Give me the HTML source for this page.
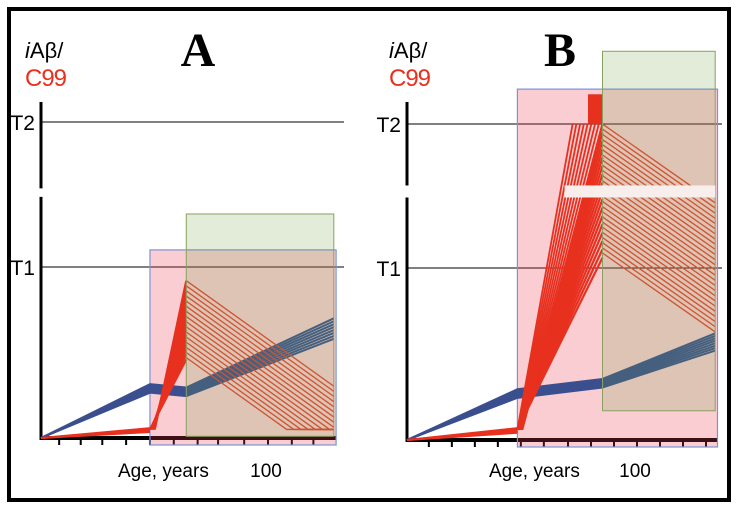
<!DOCTYPE html>
<html><head><meta charset="utf-8"><style>
html,body{margin:0;padding:0;background:#fff}
svg{display:block}
</style></head><body>
<svg id="chart" width="736" height="510" viewBox="0 0 736 510" xmlns="http://www.w3.org/2000/svg" font-family="Liberation Sans, sans-serif">
<rect x="9" y="9" width="720" height="491" fill="#fff" stroke="#000" stroke-width="4"/>
</svg>
<script>
// ---- Panel A data ----
const thresholdsA = [1.0, 1.848];
const tickAgesA = [8,17.5,27,37.5,48,58.5,69,78,89.5,100,110.5,120];
const blueAgesA = [0,48,64,129];
const blueMidA = [0,0.29,0.27,0.64];
const blueSpreadA = [0,0.05,0.05,0.12];
const redBaseAgesA = [0,48];
const redBaseValsA = [0,0.05];
const spikeAgeA = 64;
const spikeTopA = 0.92, spikeBottomA = 0.46;
const hatchSlopeA = -0.0095, hatchFloorA = 0.05, hatchEndA = 129;
const pinkA = [48,130,1.1], greenA = [64,129,1.31,0.01];
const gapA = [1.41,1.46];
// ---- Panel B data ----
const thresholdsB = [1.0, 1.837];
const tickAgesB = [9.5,19.5,29.5,39.5,49.5,59.5,70,80,90,100,110,120,130];
const blueAgesB = [0,48,85,134];
const blueMidB = [0,0.27,0.33,0.57];
const blueSpreadB = [0,0.05,0.05,0.1];
const redBaseAgesB = [0,48];
const redBaseValsB = [0,0.06];
const spikeAgeB = 85;
const spikeTopB = 1.837, spikeBottomB = 1.06;
const hatchSlopeB = -0.00936, hatchFloorB = 0.0, hatchEndB = 134;
const pinkB = [48,135,2.04], greenB = [85,134,2.26,0.17];
const redRectB = [78.7,85,1.837,2.01];
const gapB = [1.41,1.48];

const NS="http://www.w3.org/2000/svg";
const svg=document.getElementById('chart');
function mk(tag,attrs,parent){const e=document.createElementNS(NS,tag);for(const k in attrs)e.setAttribute(k,attrs[k]);(parent||svg).appendChild(e);return e;}

function panel(P){
  const X=a=>P.x0+a*P.xs, Y=v=>P.y0-v*P.k;
  const g=mk('g',{});
  
  
  let e=mk('line',{x1:P.x0,y1:P.y0,x2:X(P.xmax),y2:P.y0,stroke:'#000','stroke-width':4},g);
  
  
  e=mk('line',{x1:P.x0,y1:P.y0+2,x2:P.x0,y2:Y(P.gap[0]),stroke:'#000','stroke-width':3},g);
  
  
  e=mk('line',{x1:P.x0,y1:Y(P.gap[1]),x2:P.x0,y2:P.ytop,stroke:'#000','stroke-width':3},g);
  
  
  P.ticks.forEach(a=>{
    const t=mk('line',{x1:X(a),y1:P.y0,x2:X(a),y2:P.y0+7,stroke:'#000','stroke-width':2},g);
    
    
  });
  ['T1','T2'].forEach((lab,i)=>{
    const yy=Y(P.thr[i]);
    const l=mk('line',{x1:P.x0,y1:yy,x2:P.tx2,y2:yy,stroke:'#000','stroke-width':1},g);
    
    
    const t=mk('text',{x:P.x0-6,y:yy+8,'font-size':21,'text-anchor':'end'},g);
    t.textContent=lab;
    
    
  });
  e=mk('rect',{x:X(P.pink[0]),y:Y(P.pink[2]),width:X(P.pink[1])-X(P.pink[0]),height:P.y0+7-Y(P.pink[2]),fill:'rgba(232,60,80,0.26)',stroke:'#7b93d8','stroke-width':1.2},g);
  
  
  for(let j=0;j<8;j++){
    const f=j/7-0.5;
    const pts=P.bAges.map((a,i)=>X(a)+','+Y(P.bMid[i]+f*P.bSpr[i])).join(' ');
    const l=mk('polyline',{points:pts,fill:'none',stroke:'#3b4f8f','stroke-width':2},g);
    
    
  }
  for(let j=0;j<4;j++){
    const pts=P.rAges.map((a,i)=>X(a)+','+Y(P.rVals[i]*(0.7+j*0.15))).join(' ');
    const l=mk('polyline',{points:pts,fill:'none',stroke:'#e8301f','stroke-width':2},g);
    
    
  }
  const ba=P.rAges[1], bv=P.rVals[1];
  const n=16;
  for(let j=0;j<=n;j++){
    const v=P.sBot+(P.sTop-P.sBot)*j/n;
    const l=mk('line',{x1:X(ba)+j*0.3,y1:Y(bv),x2:X(P.sAge),y2:Y(v),stroke:'#e8301f','stroke-width':2.2},g);
    
    
  }
  if(P.fanTop){
    for(let j=0;j<=8;j++){
      const a=P.fanTop[0]+(P.sAge-P.fanTop[0])*j/8;
      const l=mk('line',{x1:X(ba)+j*0.6,y1:Y(bv),x2:X(a),y2:Y(P.sTop),stroke:'#e8301f','stroke-width':1.8},g);
      
      
    }
  }
  const step=0.03;
  for(let v=P.sTop;v>=P.sBot-1e-6;v-=step){
    let aEnd=P.hEnd, vEnd=v+P.hSlope*(P.hEnd-P.sAge);
    let pts=X(P.sAge)+','+Y(v);
    if(vEnd<P.hFloor){const ac=P.sAge+(P.hFloor-v)/P.hSlope;pts+=' '+X(ac)+','+Y(P.hFloor)+' '+X(aEnd)+','+Y(P.hFloor);}
    else pts+=' '+X(aEnd)+','+Y(vEnd);
    const l=mk('polyline',{points:pts,fill:'none',stroke:'#e8402f','stroke-width':1.3},g);
    
    
  }
  if(P.redRect){
    const r=P.redRect;
    e=mk('rect',{x:X(r[0]),y:Y(r[3]),width:X(r[1])-X(r[0]),height:Y(r[2])-Y(r[3]),fill:'#e8301f'},g);
    
    
  }
  e=mk('rect',{x:X(P.green[0]),y:Y(P.green[2]),width:X(P.green[1])-X(P.green[0]),height:Y(P.green[3])-Y(P.green[2]),fill:'rgba(110,160,60,0.2)',stroke:'#8aa060','stroke-width':1},g);
  
  
  if(P.redRect){
    e=mk('rect',{x:X(P.fanTop[0])-8,y:Y(P.gap[1]),width:X(P.hEnd)-X(P.fanTop[0])+8,height:Y(P.gap[0])-Y(P.gap[1]),fill:'#f8eeec'},g);
    
    
  }
  const lbl=(txt,x,y,sz,fill,name,extra)=>{const t=mk('text',Object.assign({x:x,y:y,'font-size':sz,fill:fill},extra||{}),g);t.textContent=txt;return t;};
  const t=mk('text',{x:P.lx,y:58,'font-size':22},g);
  t.innerHTML='<tspan font-style="italic">i</tspan>Aβ/';
  
  
  lbl('C99',P.lx,86,24,'#e8301f','y-axis-title-c99',{'letter-spacing':'-1'});
  lbl(P.title,P.titleX,66,48,'#000','panel-title',{'font-family':'Liberation Serif, serif','font-weight':'bold','text-anchor':'middle'});
  lbl('Age, years',P.ageX,477,19,'#000','x-axis-title');
  lbl('100',X(100)-2,477,19,'#000','x-tick-label-100',{'text-anchor':'middle'});
}

panel({name:'panel-a',x0:41,y0:438,xs:2.27,k:171,xmax:130,ytop:102,tx2:344,thr:thresholdsA,ticks:tickAgesA,
  bAges:blueAgesA,bMid:blueMidA,bSpr:blueSpreadA,rAges:redBaseAgesA,rVals:redBaseValsA,sAge:spikeAgeA,sTop:spikeTopA,sBot:spikeBottomA,
  hSlope:hatchSlopeA,hFloor:hatchFloorA,hEnd:hatchEndA,pink:pinkA,green:greenA,gap:gapA,lx:25,title:'A',titleX:198,ageX:118});
panel({name:'panel-b',x0:407,y0:440,xs:2.3,k:172,xmax:135,ytop:102,tx2:722,thr:thresholdsB,ticks:tickAgesB,
  bAges:blueAgesB,bMid:blueMidB,bSpr:blueSpreadB,rAges:redBaseAgesB,rVals:redBaseValsB,sAge:spikeAgeB,sTop:spikeTopB,sBot:spikeBottomB,
  hSlope:hatchSlopeB,hFloor:hatchFloorB,hEnd:hatchEndB,pink:pinkB,green:greenB,gap:gapB,redRect:redRectB,fanTop:[72],lx:389,title:'B',titleX:560,ageX:489});
</script>
</body></html>
